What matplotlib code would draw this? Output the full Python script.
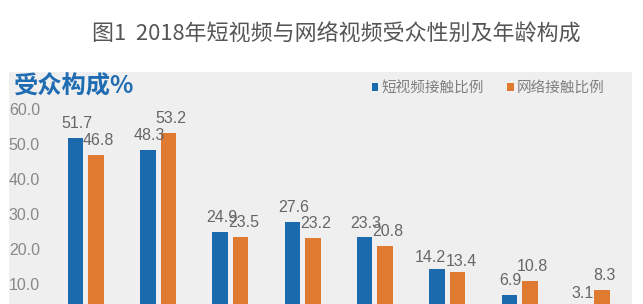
import numpy as np
import matplotlib
matplotlib.use("Agg")
from matplotlib import pyplot as plt
from matplotlib.patches import Rectangle

# data (x category labels are cropped off in the reference)
groups = np.arange(8)
short_video = [51.7, 48.3, 24.9, 27.6, 23.3, 14.2, 6.9, 3.1]
web_video = [46.8, 53.2, 23.5, 23.2, 20.8, 13.4, 10.8, 8.3]
series_names = ["短视频接触比例", "网络接触比例"]
yticks = [10, 20, 30, 40, 50, 60]

blue = "#1b6aae"
orange = "#e07a31"
panel = "#efefef"
cjk = ["Noto Sans CJK SC", "DejaVu Sans"]
num_font = "Liberation Sans"

W, H = 643, 304
fig = plt.figure(figsize=(W / 100, H / 100), dpi=100)
fig.patch.set_facecolor("white")

# gray panel behind the plot
fig.patches.append(Rectangle((9 / W, 0), (632 - 9) / W, (H - 72) / H,
                             transform=fig.transFigure, facecolor=panel,
                             edgecolor="none", zorder=-5))

# axes: value 0 sits ~15px below the bottom edge, 3.5 px per unit
ax = fig.add_axes([49.6 / W, -15 / H, 578.4 / W, 245 / H])
ax.patch.set_alpha(0)
ax.set_zorder(2)
ax.set_xlim(-0.5, 7.5)
ax.set_ylim(0, 70)

w = 0.215
off = 0.142
b1 = ax.bar(groups - off, short_video, w, color=blue, label=series_names[0])
b2 = ax.bar(groups + off, web_video, w, color=orange, label=series_names[1])

# label offsets in points; the 14.2/13.4 pair was pushed apart in the original
for k, (bars, vals) in enumerate([(b1, short_video), (b2, web_video)]):
    for i, (r, v) in enumerate(zip(bars, vals)):
        dx, dy = (1, 5) if k == 0 else (2, 5)
        if i == 5:
            dx, dy = (-5, 3) if k == 0 else (3, 2)
        ax.annotate(f"{v:.1f}", (r.get_x() + r.get_width() / 2, v),
                    xytext=(dx, dy), textcoords="offset points",
                    ha="center", va="bottom", fontsize=11.5,
                    family=num_font, color="#666666")

for s in ax.spines.values():
    s.set_visible(False)
ax.set_xticks([])
ax.set_yticks(yticks)
ax.set_yticklabels([f"{t:.1f}" for t in yticks], family=num_font,
                   fontsize=11.5, color="#888888")
ax.tick_params(axis="y", length=0, pad=7)

# titles
fig.text(336 / W, 1 - 35 / H, "图1  2018年短视频与网络视频受众性别及年龄构成",
         ha="center", va="center", fontsize=15.8, family=cjk,
         weight="light", color="#555555", zorder=3)
fig.text(13 / W, 1 - 87 / H, "受众构成%", ha="left", va="center",
         fontsize=17.5, family=cjk, weight="bold", color="#1f6cb2", zorder=3)

leg = ax.legend(handles=[b1, b2], loc="center",
                bbox_to_anchor=((373 + 603) / 2 / W, 1 - 88 / H),
                bbox_transform=fig.transFigure, ncol=2, frameon=False,
                handlelength=0.45, handleheight=0.45, handletextpad=0.2,
                columnspacing=1.6, borderpad=0,
                prop={"family": cjk, "size": 10.5})
for t in leg.get_texts():
    t.set_color("#7f7f7f")

fig.savefig("out.png", dpi=100)
